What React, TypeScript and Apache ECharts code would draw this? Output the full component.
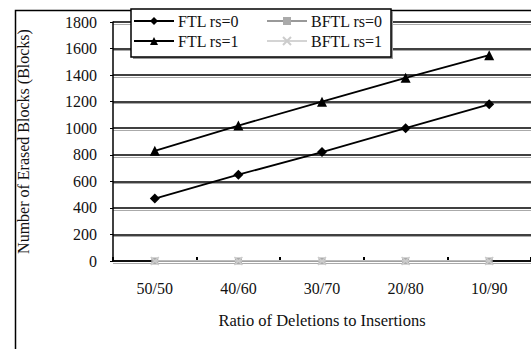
import React, { useEffect, useRef } from "react";
import * as echarts from "echarts";

const categories = ["50/50", "40/60", "30/70", "20/80", "10/90"];
const ftlRs0 = [470, 650, 820, 1000, 1180];
const ftlRs1 = [830, 1020, 1200, 1380, 1550];
const bftlRs0 = [0, 0, 0, 0, 0];
const bftlRs1 = [0, 0, 0, 0, 0];
const yTicks = { min: 0, max: 1800, interval: 200 };

const FONT = "'Liberation Serif', 'Times New Roman', serif";

export default function App() {
  const ref = useRef<HTMLDivElement>(null);
  useEffect(() => {
    if (!ref.current) return;
    const chart = echarts.init(ref.current, null, { renderer: "svg" });
    const xMark = "path://M0,0L10,10M10,0L0,10";
    const legendCommon = {
      orient: "vertical",
      padding: 0,
      itemGap: 4,
      itemWidth: 40,
      itemHeight: 10,
      textStyle: { fontFamily: FONT, fontSize: 16, color: "#111", padding: [0, 0, 0, -1] },
      z: 10,
    };
    chart.setOption({
      animation: false,
      backgroundColor: "#fff",
      textStyle: { fontFamily: FONT, color: "#000" },
      grid: [
        { left: 113, top: 22, bottom: 88, right: -8, containLabel: false },
        { left: 113, top: 24, bottom: 86, right: -8, containLabel: false },
      ],
      graphic: [
        {
          type: "rect",
          left: 13,
          top: 8,
          shape: { x: 0, y: 0, width: 560, height: 380 },
          style: { fill: "none", stroke: "#000", lineWidth: 1.5 },
          z: 0,
        },
        {
          type: "rect",
          shape: { x: 133, y: 11, width: 260, height: 48 },
          style: { fill: "#999", stroke: "none" },
          z: 8,
        },
        {
          type: "rect",
          shape: { x: 131, y: 9, width: 260, height: 48 },
          style: { fill: "#fff", stroke: "#000", lineWidth: 1.5 },
          z: 9,
        },
      ],
      legend: [
        { ...legendCommon, left: 133, top: 13, data: ["FTL rs=0", "FTL rs=1"] },
        { ...legendCommon, left: 266, top: 13, data: ["BFTL rs=0", "BFTL rs=1"] },
      ],
      xAxis: [
        {
          type: "category",
          gridIndex: 0,
          data: categories,
          boundaryGap: true,
          name: "Ratio of Deletions to Insertions",
          nameLocation: "middle",
          nameGap: 51,
          nameTextStyle: { fontFamily: FONT, fontSize: 16.5, color: "#111" },
          axisLine: { lineStyle: { color: "#000", width: 1.5 } },
          axisTick: { show: true, inside: true, length: 4, lineStyle: { color: "#000", width: 2 } },
          axisLabel: { fontFamily: FONT, fontSize: 16, color: "#111", margin: 19 },
          splitLine: { show: false },
          z: 3,
        },
        {
          type: "category",
          gridIndex: 1,
          data: categories,
          show: false,
        },
      ],
      yAxis: [
        {
          type: "value",
          gridIndex: 0,
          min: yTicks.min,
          max: yTicks.max,
          interval: yTicks.interval,
          name: "Number of Erased Blocks (Blocks)",
          nameLocation: "middle",
          nameGap: 82,
          nameTextStyle: { fontFamily: FONT, fontSize: 16, color: "#111" },
          axisLine: { show: true, lineStyle: { color: "#000", width: 1.5 } },
          axisTick: { show: true, length: 3, lineStyle: { color: "#000" } },
          axisLabel: {
            fontFamily: FONT,
            fontSize: 16,
            color: "#111",
            margin: 16,
            formatter: (v: number) => String(v),
          },
          splitLine: { show: true, lineStyle: { color: "#000", width: 1.5 } },
          z: 3,
        },
        {
          type: "value",
          gridIndex: 1,
          min: yTicks.min,
          max: yTicks.max,
          interval: yTicks.interval,
          axisLine: { show: false },
          axisTick: { show: false },
          axisLabel: { show: false },
          splitLine: { show: true, lineStyle: { color: "#aaa", width: 1.2 } },
          z: 1,
        },
      ],
      series: [
        {
          name: "FTL rs=0",
          type: "line",
          data: ftlRs0,
          symbol: "diamond",
          symbolSize: 10,
          lineStyle: { color: "#000", width: 1.8 },
          itemStyle: { color: "#000" },
          z: 5,
        },
        {
          name: "FTL rs=1",
          type: "line",
          data: ftlRs1,
          symbol: "triangle",
          symbolSize: 10,
          lineStyle: { color: "#000", width: 1.8 },
          itemStyle: { color: "#000" },
          z: 5,
        },
        {
          name: "BFTL rs=0",
          type: "line",
          data: bftlRs0,
          symbol: "rect",
          symbolSize: 7,
          lineStyle: { color: "#999", width: 1.5 },
          itemStyle: { color: "#aaa" },
          z: 4,
        },
        {
          name: "BFTL rs=1",
          type: "line",
          data: bftlRs1,
          symbol: xMark,
          symbolSize: 8,
          lineStyle: { color: "#d4d4d4", width: 1.5 },
          itemStyle: { color: "none", borderColor: "#ccc", borderWidth: 1.5 },
          z: 5,
        },
      ],
    });
    return () => chart.dispose();
  }, []);
  return <div ref={ref} style={{ width: 531, height: 349, position: "fixed", left: 0, top: 0 }} />;
}
